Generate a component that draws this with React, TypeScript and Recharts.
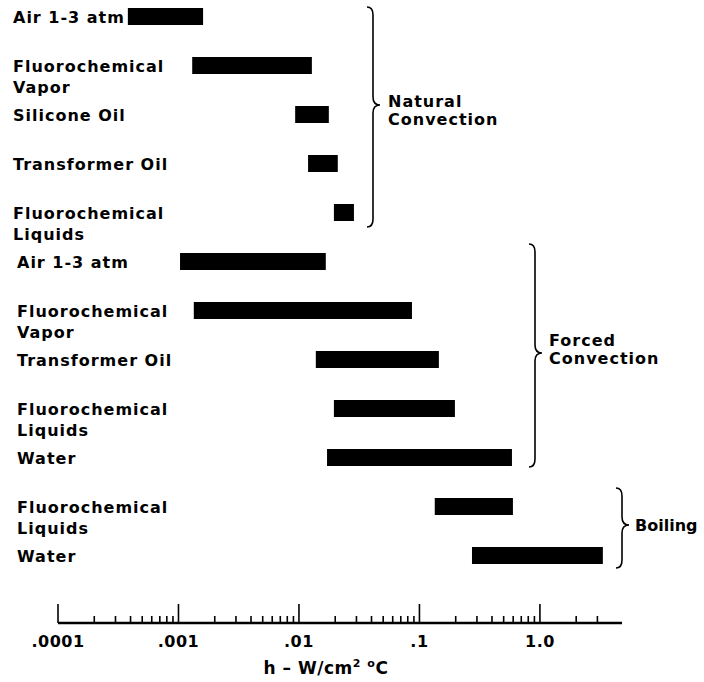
import React from "react";
import { BarChart, Bar, XAxis, YAxis, Customized } from "recharts";

// rows from top to bottom, "\n" = second line of the label
const rowLabels = [
  "Air 1-3 atm",
  "Fluorochemical\nVapor",
  "Silicone Oil",
  "Transformer Oil",
  "Fluorochemical\nLiquids",
  "Air 1-3 atm",
  "Fluorochemical\nVapor",
  "Transformer Oil",
  "Fluorochemical\nLiquids",
  "Water",
  "Fluorochemical\nLiquids",
  "Water",
];

// heat transfer coefficient range, W/cm2 °C
const hLow = [0.00038, 0.0013, 0.0093, 0.0119, 0.0195, 0.00103, 0.00134, 0.0138, 0.0195, 0.0171, 0.134, 0.273];
const hHigh = [0.0016, 0.0128, 0.0177, 0.021, 0.0286, 0.0167, 0.0867, 0.145, 0.197, 0.586, 0.597, 3.33];

const groupNames = ["Natural\nConvection", "Forced\nConvection", "Boiling"];

const decadeTicks = [0.0001, 0.001, 0.01, 0.1, 1];
const decadeLabels = [".0001", ".001", ".01", ".1", "1.0"];
const minorSteps = [2, 3, 4, 5, 6, 7, 8, 9];
const tailTicks = [2, 3];

const data = rowLabels.map((label, i) => ({
  id: i,
  label,
  range: [hLow[i], hHigh[i]],
}));

const allTicks = [
  ...decadeTicks,
  ...decadeTicks.slice(0, 4).flatMap((d) => minorSteps.map((m) => d * m)),
  ...tailTicks,
];

const font = {
  fontFamily: "'DejaVu Sans', Verdana, sans-serif",
  fontWeight: 700,
  fontSize: 16,
  letterSpacing: 1,
};

// brace + group label placement (svg coords)
const braceLayout = [
  { x: 373, y1: 17, y2: 237, tip: 115, tx: 388, ty: 117 },
  { x: 535, y1: 254, y2: 477, tip: 363, tx: 549, ty: 356 },
  { x: 622, y1: 498, y2: 578, tip: 535, tx: 635, ty: 541 },
];

const bracePath = (x: number, y1: number, y2: number, t: number) =>
  `M${x - 6},${y1} Q${x},${y1} ${x},${y1 + 8} L${x},${t - 8} Q${x},${t} ${x + 7},${t} ` +
  `Q${x},${t} ${x},${t + 8} L${x},${y2 - 8} Q${x},${y2} ${x - 6},${y2}`;

const RowTick = (props: any) => {
  const { y, payload } = props;
  const i = Number(payload.value);
  const lines = rowLabels[i].split("\n");
  const x = i < 5 ? 13 : 17;
  return (
    <text x={x} y={y + 6} textAnchor="start" fill="#000" style={font}>
      {lines.map((l, k) => (
        <tspan key={k} x={x} dy={k === 0 ? 0 : 21}>
          {l}
        </tspan>
      ))}
    </text>
  );
};

const HTick = (props: any) => {
  const { x, y, payload } = props;
  const v = payload.value;
  const di = decadeTicks.findIndex((d) => Math.abs(Math.log10(d) - Math.log10(v)) < 1e-6);
  const len = di >= 0 ? 19 : 7;
  return (
    <g>
      <line x1={x} x2={x} y1={y} y2={y - len} stroke="#000" strokeWidth={1.6} />
      {di >= 0 && (
        <text x={x} y={y + 24} textAnchor="middle" fill="#000" style={{ ...font, letterSpacing: 0.5 }}>
          {decadeLabels[di]}
        </text>
      )}
    </g>
  );
};

const Annotations = () => (
  <g>
    {groupNames.map((name, g) => {
      const b = braceLayout[g];
      const lines = name.split("\n");
      return (
        <g key={g}>
          <path d={bracePath(b.x, b.y1, b.y2, b.tip)} fill="none" stroke="#000" strokeWidth={1.6} />
          <text
            x={b.tx}
            y={b.ty}
            fill="#000"
            style={{ ...font, letterSpacing: lines.length > 1 ? 1 : 0 }}
          >
            {lines.map((l, k) => (
              <tspan key={k} x={b.tx} dy={k === 0 ? 0 : 18}>
                {l}
              </tspan>
            ))}
          </text>
        </g>
      );
    })}
    <text x={326} y={684} textAnchor="middle" fill="#000" style={{ ...font, fontSize: 17, letterSpacing: 0.5 }}>
      h – W/cm
      <tspan dy={-7} fontSize={11}>2</tspan>
      <tspan dy={7}> </tspan>
      <tspan dy={-7} fontSize={11}>o</tspan>
      <tspan dy={7}>C</tspan>
    </text>
  </g>
);

export default function App() {
  return (
    <div style={{ position: "absolute", left: 0, top: -10 }}>
      <BarChart
        width={704}
        height={692}
        data={data}
        layout="vertical"
        margin={{ top: 2, right: 82, bottom: 19, left: 0 }}
      >
        <XAxis
          type="number"
          scale="log"
          domain={[0.0001, 4.8]}
          allowDataOverflow
          ticks={allTicks}
          interval={0}
          height={40}
          tickSize={0}
          tickMargin={0}
          tickLine={false}
          axisLine={{ stroke: "#000", strokeWidth: 2.5 }}
          tick={(p: any) => <HTick {...p} />}
        />
        <YAxis
          type="category"
          dataKey="id"
          width={58}
          interval={0}
          axisLine={false}
          tickLine={false}
          padding={{ top: 0, bottom: 43 }}
          tick={(p: any) => <RowTick {...p} />}
        />
        <Bar dataKey="range" fill="#000" barSize={17} isAnimationActive={false} />
        <Customized component={Annotations} />
      </BarChart>
    </div>
  );
}
